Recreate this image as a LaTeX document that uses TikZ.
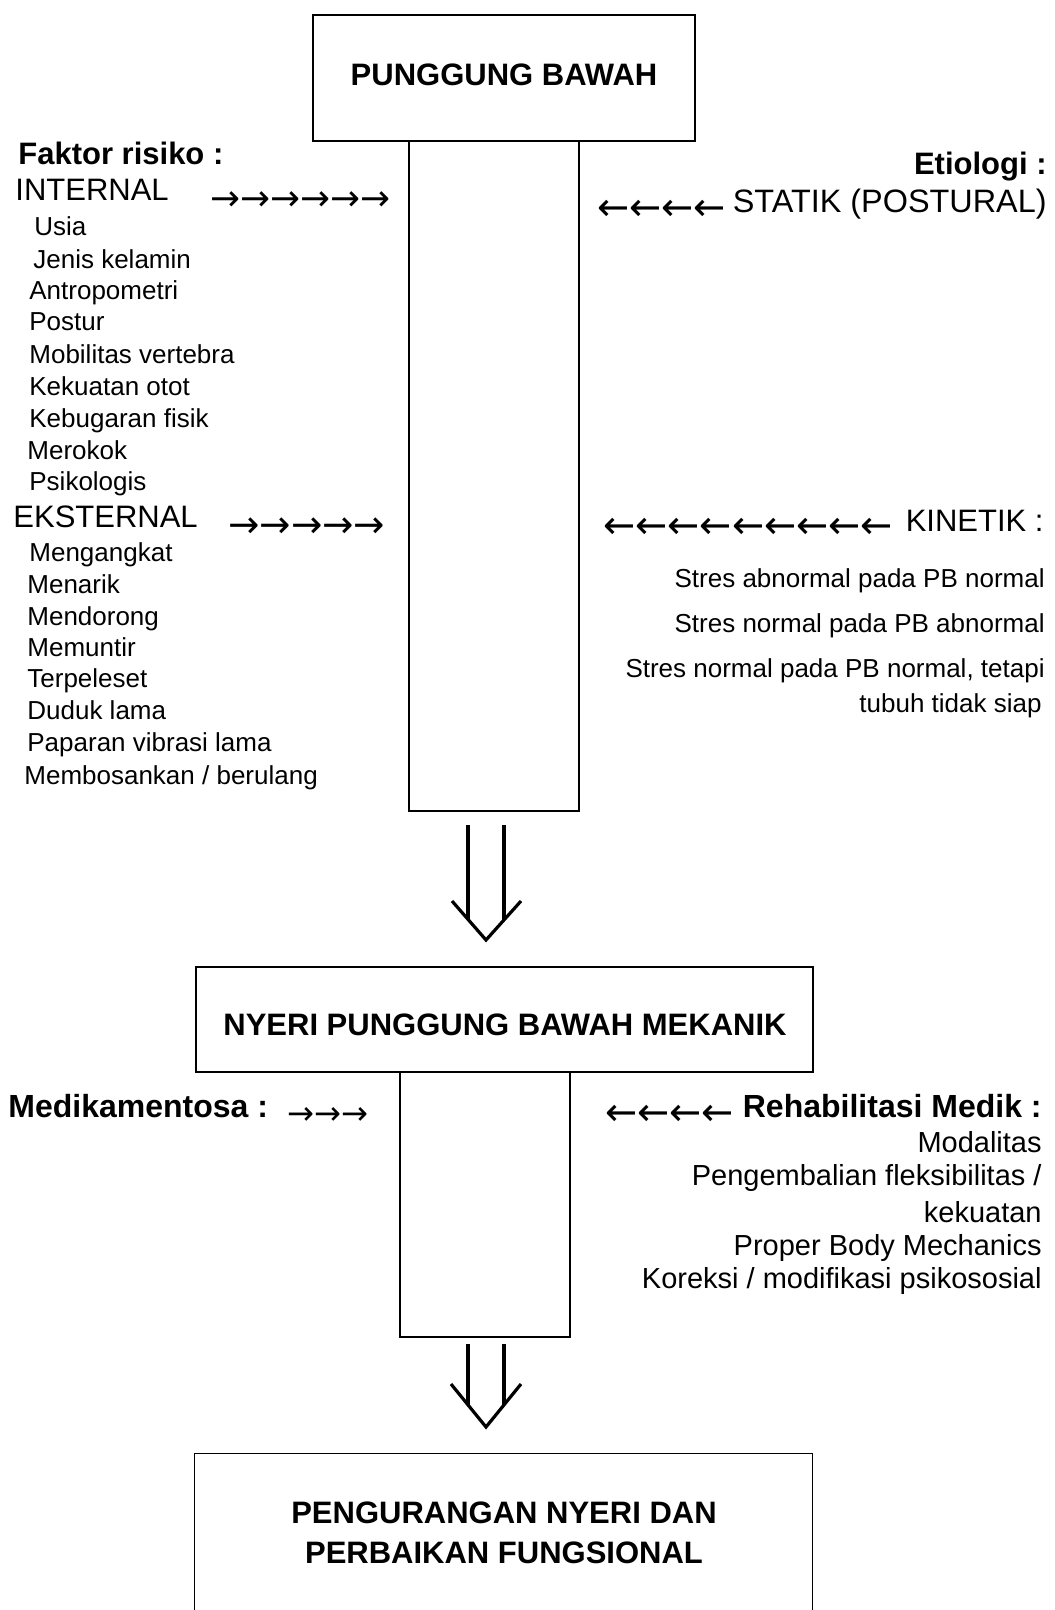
\documentclass[tikz,border=0pt]{standalone}
\usepackage{fontspec}
\setmainfont{Liberation Sans}
\newfontfamily\arrfont{DejaVu Sans}
\usetikzlibrary{calc}
\begin{document}
\begin{tikzpicture}[x=0.5pt,y=-0.5pt,
  every node/.style={inner sep=0pt, text height=.72em, text depth=0pt},
  boxst/.style={draw, line width=0.8pt},
  hd/.style={font=\fontsize{15.5}{18}\selectfont\bfseries},
  hdb/.style={font=\fontsize{16}{19}\selectfont\bfseries},
  big/.style={font=\fontsize{15.5}{18}\selectfont},
  itm/.style={font=\fontsize{13}{15}\selectfont},
  ritm/.style={font=\fontsize{14.5}{17}\selectfont},
  arr/.style={font=\arrfont\fontsize{#1}{18}\selectfont, anchor=west},
  lft/.style={anchor=west}, rgt/.style={anchor=east},
  fat/.style={line width=1.6pt}]
\useasboundingbox (0,0) rectangle (1054,1610);

% boxes
\node[boxst, minimum width=191pt, minimum height=63pt, hd] (top) at (504,78) {PUNGGUNG BAWAH};
\node[boxst, minimum width=85pt, minimum height=335pt] (col1) at (494,476) {};
\node[boxst, minimum width=308.5pt, minimum height=52.5pt] (mid) at (504.5,1019.5) {};
\node[hd] (midt) at (505,1028) {NYERI PUNGGUNG BAWAH MEKANIK};
\node[boxst, minimum width=85pt, minimum height=132.5pt] (col2) at (485,1204.5) {};
\node[minimum width=308.5pt, minimum height=78pt] (bot) at (503.5,1532) {};
\draw[line width=0.8pt] (bot.south west) -- (bot.north west) -- (bot.north east) -- (bot.south east);
\node[hd] (bt1) at (504,1516) {PENGURANGAN NYERI DAN};
\node[hd] (bt2) at (504,1556) {PERBAIKAN FUNGSIONAL};

% big double arrows
\coordinate (a1L) at (468,825); \coordinate (a1Le) at (468,919);
\coordinate (a1R) at (504,825); \coordinate (a1Re) at (504,920);
\coordinate (a1hl) at (452,901); \coordinate (a1tip) at (486,940); \coordinate (a1hr) at (521,901);
\draw[fat] (a1L) -- (a1Le);
\draw[fat] (a1R) -- (a1Re);
\draw[fat] (a1hl) -- (a1tip) -- (a1hr);

\coordinate (a2L) at (468,1344); \coordinate (a2Le) at (468,1405);
\coordinate (a2R) at (504,1344); \coordinate (a2Re) at (504,1405);
\coordinate (a2hl) at (451,1384); \coordinate (a2tip) at (486,1427); \coordinate (a2hr) at (521,1384);
\draw[fat] (a2L) -- (a2Le);
\draw[fat] (a2R) -- (a2Re);
\draw[fat] (a2hl) -- (a2tip) -- (a2hr);

% left: risk factors
\node[hd, lft] (fr) at (18,157) {Faktor risiko :};
\node[big, lft] (int) at (15,193) {INTERNAL};
\node[arr=17.9] (intar) at (210,203) {→→→→→→};
\node[itm, lft] (i1) at (34,228) {Usia};
\node[itm, lft] (i2) at (33,261) {Jenis kelamin};
\node[itm, lft] (i3) at (29,292) {Antropometri};
\node[itm, lft] (i4) at (29,323) {Postur};
\node[itm, lft] (i5) at (29,356) {Mobilitas vertebra};
\node[itm, lft] (i6) at (29,388) {Kekuatan otot};
\node[itm, lft] (i7) at (29,420) {Kebugaran fisik};
\node[itm, lft] (i8) at (27,452) {Merokok};
\node[itm, lft] (i9) at (29,483) {Psikologis};
\node[big, lft] (eks) at (13,520) {EKSTERNAL};
\node[arr=18.7] (eksar) at (228,530) {→→→→→};
\node[itm, lft] (e1) at (29,554) {Mengangkat};
\node[itm, lft] (e2) at (27,586) {Menarik};
\node[itm, lft] (e3) at (27,618) {Mendorong};
\node[itm, lft] (e4) at (27,649) {Memuntir};
\node[itm, lft] (e5) at (27,680) {Terpeleset};
\node[itm, lft] (e6) at (27,712) {Duduk lama};
\node[itm, lft] (e7) at (27,744) {Paparan vibrasi lama};
\node[itm, lft] (e8) at (24,777) {Membosankan / berulang};

% right: etiology
\node[hd, rgt] (eti) at (1047,167) {Etiologi :};
\node[arr=19.2] (statar) at (597,213) {←←←←};
\node[big, rgt, font=\fontsize{16.2}{19}\selectfont] (stat) at (1047,205) {STATIK (POSTURAL)};
\node[arr=19.2] (kinar) at (603,531) {←←←←←←←←←};
\node[big, rgt] (kin) at (1044,524) {KINETIK :};
\node[itm, rgt] (k1) at (1045,580) {Stres abnormal pada PB normal};
\node[itm, rgt] (k2) at (1045,625) {Stres normal pada PB abnormal};
\node[itm, rgt] (k3) at (1045,670) {Stres normal pada PB normal, tetapi};
\node[itm, rgt] (k4) at (1042,705) {tubuh tidak siap};

% lower section
\node[hdb, lft] (med) at (8,1110) {Medikamentosa :};
\node[arr=16.1] (medar) at (287,1117) {→→→};
\node[arr=19.2] (rehar) at (605,1118) {←←←←};
\node[hdb, rgt] (reh) at (1042,1110) {Rehabilitasi Medik :};
\node[ritm, rgt] (r1) at (1042,1145) {Modalitas};
\node[ritm, rgt] (r2) at (1042,1178) {Pengembalian fleksibilitas /};
\node[ritm, rgt] (r3) at (1042,1215) {kekuatan};
\node[ritm, rgt] (r4) at (1042,1248) {Proper Body Mechanics};
\node[ritm, rgt] (r5) at (1042,1281) {Koreksi / modifikasi psikososial};
\end{tikzpicture}
\end{document}
